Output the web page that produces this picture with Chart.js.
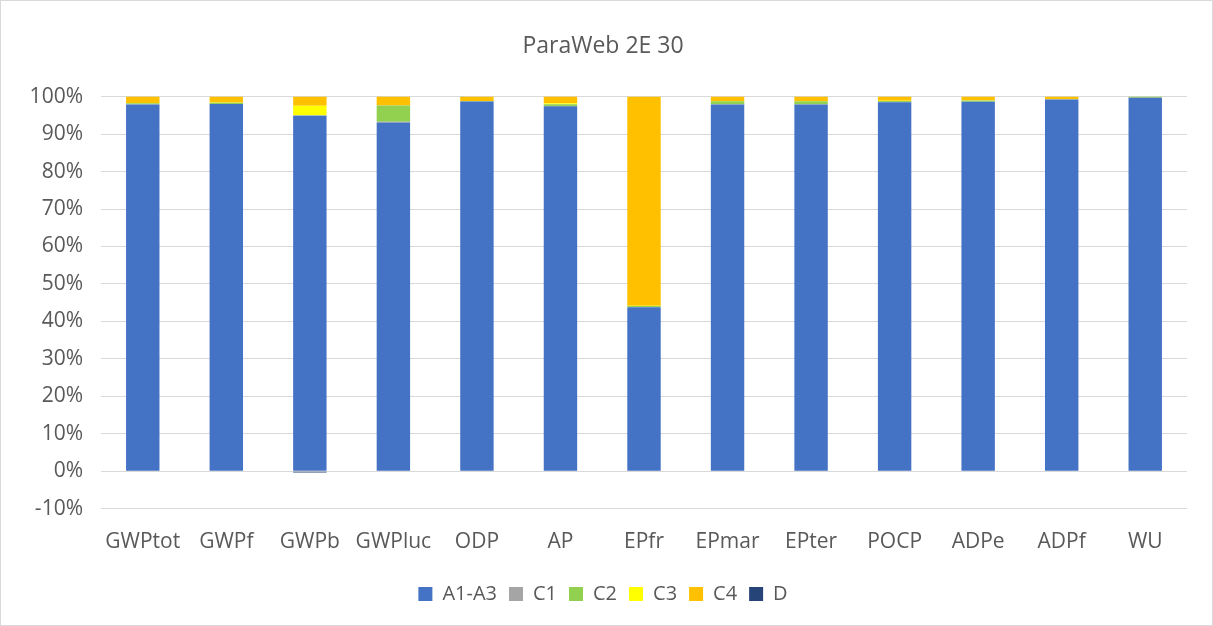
<!DOCTYPE html>
<html lang="en">
<head>
    <meta charset="UTF-8">
    <title>ParaWeb 2E 30</title>
    <script src="https://cdn.jsdelivr.net/npm/chart.js"></script>
    <style>
        html, body {
            margin: 0;
            padding: 0;
            background: #ffffff;
        }
        #chartContainer {
            width: 1211px;
            height: 624px;
            border: 1px solid #d9d9d9;
            position: relative;
        }
    </style>
</head>
<body>
    <div id="chartContainer">
        <canvas id="lcaChart"></canvas>
    </div>
    <script>
        const categories = ['GWPtot', 'GWPf', 'GWPb', 'GWPluc', 'ODP', 'AP', 'EPfr', 'EPmar', 'EPter', 'POCP', 'ADPe', 'ADPf', 'WU'];

        // shares in percent per module
        const a1a3 = [97.9, 98.0, 94.9, 93.1, 98.7, 97.4, 43.8, 97.9, 97.9, 98.5, 98.6, 99.2, 99.7];
        const c1   = [0.05, 0.05, 0.05, 0.2, 0.0, 0.05, 0.05, 0.05, 0.05, 0.05, 0.05, 0.0, 0.0];
        const c2   = [0.3, 0.3, 0.1, 4.3, 0.1, 0.5, 0.3, 0.8, 0.8, 0.3, 0.3, 0.1, 0.3];
        const c3   = [0.05, 0.05, 2.5, 0.05, 0.05, 0.3, 0.05, 0.05, 0.05, 0.05, 0.05, 0.0, 0.0];
        const c4   = [1.7, 1.6, 2.45, 2.35, 1.15, 1.75, 55.8, 1.2, 1.2, 1.1, 1.0, 0.7, 0.0];
        const d    = [0.0, 0.0, -0.3, 0.0, 0.0, 0.0, 0.0, 0.0, 0.0, 0.0, 0.0, 0.0, 0.0];

        const fontFamily = "'Open Sans', 'Liberation Sans', sans-serif";
        const tickFont = { family: fontFamily, size: 21 };

        new Chart(document.getElementById('lcaChart'), {
            type: 'bar',
            data: {
                labels: categories,
                datasets: [
                    { label: 'A1-A3', data: a1a3, backgroundColor: '#4472c4' },
                    { label: 'C1', data: c1, backgroundColor: '#a5a5a5' },
                    { label: 'C2', data: c2, backgroundColor: '#92d050' },
                    { label: 'C3', data: c3, backgroundColor: '#ffff00' },
                    { label: 'C4', data: c4, backgroundColor: '#ffc000' },
                    { label: 'D', data: d, backgroundColor: '#264478' }
                ]
            },
            options: {
                responsive: true,
                maintainAspectRatio: false,
                animation: false,
                barPercentage: 0.4,
                categoryPercentage: 1.0,
                layout: {
                    padding: { left: 18, right: 25, top: 18, bottom: 11 }
                },
                plugins: {
                    title: {
                        display: true,
                        text: 'ParaWeb 2E 30',
                        color: '#595959',
                        font: { family: fontFamily, size: 23, weight: 'normal' },
                        padding: { top: 14, bottom: 36 }
                    },
                    legend: {
                        position: 'bottom',
                        labels: {
                            color: '#595959',
                            font: { family: fontFamily, size: 20 },
                            boxWidth: 14,
                            boxHeight: 14,
                            padding: 12
                        }
                    },
                    tooltip: { enabled: false }
                },
                scales: {
                    x: {
                        stacked: true,
                        grid: { display: false },
                        border: { display: false },
                        afterFit: function (scale) { scale.height += 4; },
                        ticks: { color: '#595959', font: tickFont, padding: 13 }
                    },
                    y: {
                        stacked: true,
                        min: -10,
                        max: 100,
                        grid: { color: '#d9d9d9', drawTicks: false },
                        border: { display: false },
                        afterFit: function (scale) { scale.width = 82; },
                        ticks: {
                            stepSize: 10,
                            color: '#595959',
                            font: tickFont,
                            padding: 18,
                            callback: v => v + '%'
                        }
                    }
                }
            }
        });
    </script>
</body>
</html>
